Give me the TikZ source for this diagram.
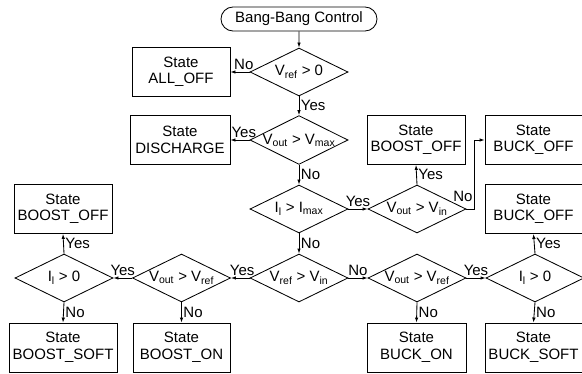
\documentclass[tikz,border=0pt]{standalone}
\usepackage{fontspec}
\setmainfont{Liberation Sans}
\usetikzlibrary{shapes.geometric,shapes.misc,arrows.meta}

\begin{document}
\begin{tikzpicture}[
    x=1pt, y=1pt,
    txt/.style={font=\fontsize{15}{16.5}\selectfont},
    state/.style={txt, draw, line width=0.85pt, minimum width=98pt, minimum height=49pt, align=center, inner sep=1pt},
    test/.style={txt, draw, diamond, aspect=2, line width=0.85pt, minimum width=98pt, minimum height=48pt, inner sep=0pt},
    ans/.style={txt, inner sep=1.5pt},
    arr/.style={-{Latex[length=5pt,width=3.5pt]}, line width=0.85pt}
]
    \useasboundingbox (0,0) rectangle (582,373);

    % --- Start and first checks (middle column) ---
    \node[txt, draw, rounded rectangle, line width=0.85pt, minimum width=158pt, minimum height=24pt, inner sep=1pt] (start) at (299,354) {Bang-Bang Control};
    \node[test] (d1) at (299,301) {V\textsubscript{ref} > 0};
    \node[test] (d2) at (299,233) {V\textsubscript{out} > V\textsubscript{max}};
    \node[test] (d3) at (299,164) {I\textsubscript{l} > I\textsubscript{max}};
    \node[test] (d5) at (299,95) {V\textsubscript{ref} > V\textsubscript{in}};

    \node[state] (alloff) at (181,301) {State\\ALL\_OFF};
    \node[state, minimum width=100pt] (discharge) at (180,233) {State\\DISCHARGE};

    % --- Current limit branch ---
    \node[test] (d4) at (417,164) {V\textsubscript{out} > V\textsubscript{in}};
    \node[state] (boostoffa) at (416,233) {State\\BOOST\_OFF};
    \node[state, minimum width=97pt] (buckoffa) at (533.5,233) {State\\BUCK\_OFF};

    % --- Boost side (left) ---
    \node[test] (d8) at (181.5,95) {V\textsubscript{out} > V\textsubscript{ref}};
    \node[test] (d9) at (64,95) {I\textsubscript{l} > 0};
    \node[state] (boostoffb) at (63,164) {State\\BOOST\_OFF};
    \node[state, minimum width=108pt] (boostsoft) at (63,25.5) {State\\BOOST\_SOFT};
    \node[state, minimum width=97pt] (booston) at (181.5,25.5) {State\\BOOST\_ON};

    % --- Buck side (right) ---
    \node[test] (d6) at (417,95) {V\textsubscript{out} > V\textsubscript{ref}};
    \node[test] (d7) at (535,95) {I\textsubscript{l} > 0};
    \node[state, minimum width=97pt] (buckoffb) at (533.5,164) {State\\BUCK\_OFF};
    \node[state, minimum width=99pt] (buckon) at (416.5,25.5) {State\\BUCK\_ON};
    \node[state, minimum width=97pt] (bucksoft) at (533.5,25.5) {State\\BUCK\_SOFT};

    % --- Connectors ---
    \draw[arr] (start) -- (d1);
    \draw[arr] (d1.west) -- node[ans, above, pos=0.3] {No} (alloff.east);
    \draw[arr] (d1.south) -- node[ans, right] {Yes} (d2.north);
    \draw[arr] (d2.west) -- node[ans, above, pos=0.3] {Yes} (discharge.east);
    \draw[arr] (d2.south) -- node[ans, right] {No} (d3.north);
    \draw[arr] (d3.east) -- node[ans, above] {Yes} (d4.west);
    \draw[arr] (d4.north) -- node[ans, right] {Yes} (boostoffa.south);
    \draw[arr] (d4.east) -- ++(8,0) node[ans, above left, yshift=5pt] {No} |- (buckoffa.west);
    \draw[arr] (d3.south) -- node[ans, right] {No} (d5.north);

    \draw[arr] (d5.west) -- node[ans, above, pos=0.4] {Yes} (d8.east);
    \draw[arr] (d8.west) -- node[ans, above] {Yes} (d9.east);
    \draw[arr] (d9.north) -- node[ans, right] {Yes} (boostoffb.south);
    \draw[arr] (d9.south) -- node[ans, right] {No} (boostsoft.north);
    \draw[arr] (d8.south) -- node[ans, right] {No} (booston.north);

    \draw[arr] (d5.east) -- node[ans, above] {No} (d6.west);
    \draw[arr] (d6.east) -- node[ans, above] {Yes} (d7.west);
    \draw[arr] (d6.south) -- node[ans, right] {No} (buckon.north);
    \draw[arr] (d7.north) -- node[ans, right] {Yes} (buckoffb.south);
    \draw[arr] (d7.south) -- node[ans, right] {No} (bucksoft.north);
\end{tikzpicture}
\end{document}
